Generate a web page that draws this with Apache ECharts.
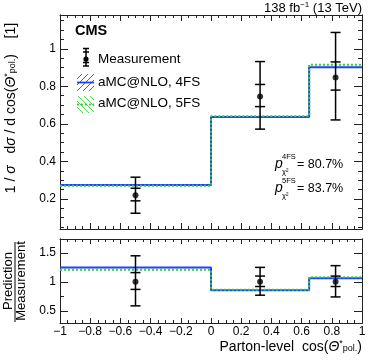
<!DOCTYPE html>
<html>
<head>
<meta charset="utf-8">
<script src="https://cdn.jsdelivr.net/npm/echarts@6/dist/echarts.min.js"></script>
<style>
html, body { margin: 0; padding: 0; background: #fff; }
#main { width: 374px; height: 363px; }
</style>
</head>
<body>
<div id="main"></div>
<script>
// bins in cos(theta*_pol)
const binEdges = [-1, 0, 0.65, 1];
const binCenters = [-0.5, 0.325, 0.825];

// measurement, upper panel
const meas = [0.22, 0.746, 0.847];
const measTotDn = [0.124, 0.572, 0.621];
const measTotUp = [0.316, 0.932, 1.087];
const measStatDn = [0.19, 0.692, 0.78];
const measStatUp = [0.257, 0.81, 0.93];

// predictions
const pred4FS = [0.275, 0.636, 0.902];
const pred5FS = [0.27, 0.641, 0.915];

// ratio panel
const ratioMeas = [1, 1, 1];
const ratioTotDn = [0.586, 0.77, 0.74];
const ratioTotUp = [1.45, 1.25, 1.28];
const ratioStatDn = [0.87, 0.92, 0.92];
const ratioStatUp = [1.16, 1.1, 1.1];
const ratio4FS = [1.248, 0.857, 1.062];
const ratio5FS = [1.21, 0.862, 1.08];

// tick values
const upperMajor = [0.2, 0.4, 0.6, 0.8, 1];
const upperMinor = [0.05, 0.1, 0.15, 0.25, 0.3, 0.35, 0.45, 0.5, 0.55, 0.65, 0.7, 0.75, 0.85, 0.9, 0.95, 1.05, 1.1, 1.15];
const lowerMajor = [0.5, 1, 1.5];
const lowerMinor = [0.75, 1.25];

const pNames = ['4FS', '5FS'];
const pValues = ['80.7%', '83.7%'];

const FONT = '"Liberation Sans", Arial, Helvetica, sans-serif';
const AX = '#222';
const BLUE = '#2040ff';
const GREEN = '#30d030';

let chart = echarts.init(document.getElementById('main'));

function fmtX(v) {
  let s = Math.abs(v - Math.round(v)) < 1e-9 ? String(Math.round(v)) : v.toFixed(1);
  return s.replace('-', '\u2212');
}

function xAxisDef(gridIndex, pos, showLabel, majLen, minLen) {
  return {
    type: 'value', gridIndex: gridIndex, position: pos,
    min: -1, max: 1, interval: 0.2,
    axisLine: { show: true, onZero: false, lineStyle: { color: AX, width: 1 } },
    axisTick: { show: true, inside: true, length: majLen, lineStyle: { color: AX } },
    minorTick: { show: true, splitNumber: 4, length: minLen, lineStyle: { color: AX } },
    splitLine: { show: false },
    minorSplitLine: { show: false },
    axisLabel: { show: showLabel, margin: 3, color: '#000', fontSize: 12, fontFamily: FONT, formatter: fmtX }
  };
}

function yAxisDef(gridIndex, pos, min, max, values, len, showLabel) {
  return {
    type: 'value', gridIndex: gridIndex, position: pos, min: min, max: max,
    axisLine: { show: true, onZero: false, lineStyle: { color: AX, width: 1 } },
    axisTick: { show: true, inside: true, length: len, customValues: values, lineStyle: { color: AX } },
    axisLabel: { show: showLabel, customValues: values, margin: 4, color: '#000', fontSize: 12, fontFamily: FONT },
    splitLine: { show: false }
  };
}

function stepData(edges, vals) {
  return edges.map(function (e, i) { return [e, vals[Math.min(i, vals.length - 1)]]; });
}

function errData(c, dn, up, sdn, sup) {
  return binCenters.map(function (x, i) { return [x, c[i], dn[i], up[i], sdn[i], sup[i]]; });
}

function errRender(params, api) {
  const x = api.value(0);
  const lo = api.coord([x, api.value(2)]);
  const hi = api.coord([x, api.value(3)]);
  const slo = api.coord([x, api.value(4)]);
  const shi = api.coord([x, api.value(5)]);
  const w = 5;
  const st = { stroke: '#000', lineWidth: 1.5 };
  const kids = [{ type: 'line', shape: { x1: lo[0], y1: lo[1], x2: hi[0], y2: hi[1] }, style: st }];
  [lo, hi, slo, shi].forEach(function (p) {
    kids.push({ type: 'line', shape: { x1: p[0] - w, y1: p[1], x2: p[0] + w, y2: p[1] }, style: st });
  });
  return { type: 'group', children: kids };
}

function hatch(color, dir) {
  const c = document.createElement('canvas');
  c.width = 6; c.height = 6;
  const g = c.getContext('2d');
  g.strokeStyle = color; g.lineWidth = 1;
  g.globalAlpha = 0.85;
  g.beginPath();
  if (dir > 0) { g.moveTo(0, 6); g.lineTo(6, 0); } else { g.moveTo(0, 0); g.lineTo(6, 6); }
  g.stroke();
  return { image: c, repeat: 'repeat' };
}

function txt(x, y, text, size, align, extra) {
  return Object.assign({
    type: 'text', x: x, y: y,
    style: { text: text, fill: '#000', fontSize: size, fontFamily: FONT, align: align || 'left', verticalAlign: 'middle' }
  }, extra || {});
}

const richBase = {
  a: { fontSize: 14, fontFamily: FONT, fill: '#000' },
  t: { fontSize: 14, fontFamily: FONT, fontStyle: 'italic', fill: '#000' },
  sup: { fontSize: 9, fontFamily: FONT, padding: [0, 0, 6, 0], fill: '#000' },
  sub: { fontSize: 9, fontFamily: FONT, padding: [4, 0, 0, 0], fill: '#000' }
};

let graphics = [];
// lumi label
graphics.push({
  type: 'text', x: 362, y: 8,
  style: {
    text: '{a|138 fb}{sup|\u22121}{a| (13 TeV)}', align: 'right', verticalAlign: 'middle',
    rich: { a: { fontSize: 13, fontFamily: FONT }, sup: { fontSize: 8, fontFamily: FONT, padding: [0, 0, 6, 0] } }
  }
});
// CMS
graphics.push({ type: 'text', x: 75, y: 31,
  style: { text: 'CMS', fontSize: 14.5, fontWeight: 'bold', fontFamily: FONT, fill: '#000', align: 'left', verticalAlign: 'middle' } });

// legend: measurement
const lgSt = { stroke: '#000', lineWidth: 1.5 };
graphics.push({ type: 'line', shape: { x1: 86, y1: 48.5, x2: 86, y2: 66 }, style: lgSt });
[48.5, 52, 62.5, 66].forEach(function (yy) {
  graphics.push({ type: 'line', shape: { x1: 83, y1: yy, x2: 89, y2: yy }, style: lgSt });
});
graphics.push({ type: 'circle', shape: { cx: 86, cy: 59, r: 2.6 }, style: { fill: '#000' } });
graphics.push(txt(98, 59.5, 'Measurement', 13.5));
// legend: 4FS
graphics.push({ type: 'rect', shape: { x: 77, y: 74, width: 17, height: 17 }, style: { fill: hatch(BLUE, 1) } });
graphics.push({ type: 'line', shape: { x1: 77, y1: 82.5, x2: 94, y2: 82.5 }, style: { stroke: BLUE, lineWidth: 1.8 } });
graphics.push(txt(98, 82, 'aMC@NLO, 4FS', 13.5));
// legend: 5FS
graphics.push({ type: 'rect', shape: { x: 77, y: 96, width: 17, height: 17 }, style: { fill: hatch(GREEN, -1) } });
graphics.push({ type: 'line', shape: { x1: 77, y1: 104.5, x2: 94, y2: 104.5 }, style: { stroke: GREEN, lineWidth: 1.8, lineDash: [2, 2] } });
graphics.push(txt(98, 103.5, 'aMC@NLO, 5FS', 13.5));

// p-values
[164, 188].forEach(function (yy, i) {
  graphics.push({ type: 'text', x: 275, y: yy, style: { text: 'p', fontSize: 14, fontStyle: 'italic', fontFamily: FONT, fill: '#000', align: 'left', verticalAlign: 'middle' } });
  graphics.push(txt(282, yy - 7, pNames[i], 7.5));
  graphics.push(txt(282, yy + 8, '\u03c7\u00b2', 7.5));
  graphics.push(txt(297, yy + 1, '= ' + pValues[i], 12.5));
});

// upper y title (rotated)
graphics.push({
  type: 'text', x: 11, y: 108, rotation: Math.PI / 2,
  style: {
    text: '{a|1 / }{t|\u03c3}{a|   d}{t|\u03c3}{a| / d cos(}{t|\u0398}{sup|*}{sub|pol.}{a|)    [1]}',
    align: 'center', verticalAlign: 'middle', rich: richBase
  }
});
// lower y title: fraction
graphics.push({ type: 'text', x: 8.5, y: 281, rotation: Math.PI / 2,
  style: { text: 'Prediction', fontSize: 13, fontFamily: FONT, fill: '#000', align: 'center', verticalAlign: 'middle' } });
graphics.push({ type: 'line', shape: { x1: 15, y1: 242, x2: 15, y2: 322 }, style: { stroke: '#000', lineWidth: 1 } });
graphics.push({ type: 'text', x: 21.5, y: 281, rotation: Math.PI / 2,
  style: { text: 'Measurement', fontSize: 13, fontFamily: FONT, fill: '#000', align: 'center', verticalAlign: 'middle' } });
// x title
graphics.push({
  type: 'text', x: 362, y: 347,
  style: {
    text: '{a|Parton-level  cos(}{t|\u0398}{sup|*}{sub|pol.}{a|)}',
    align: 'right', verticalAlign: 'middle', rich: richBase
  }
});

const option = {
  backgroundColor: '#fff',
  animation: false,
  grid: [
    { left: 60, right: 12, top: 15, height: 214, outerBoundsMode: 'none' },
    { left: 60, right: 12, top: 239, height: 84, outerBoundsMode: 'none' }
  ],
  xAxis: [
    xAxisDef(0, 'bottom', false, 6, 3),
    xAxisDef(0, 'top', false, 6, 3),
    xAxisDef(1, 'bottom', true, 5, 3),
    xAxisDef(1, 'top', false, 5, 3)
  ],
  yAxis: [
    yAxisDef(0, 'left', 0.04, 1.18, upperMajor, 8, true),
    yAxisDef(0, 'left', 0.04, 1.18, upperMinor, 4, false),
    yAxisDef(0, 'right', 0.04, 1.18, upperMajor, 8, false),
    yAxisDef(0, 'right', 0.04, 1.18, upperMinor, 4, false),
    yAxisDef(1, 'left', 0.29, 1.74, lowerMajor, 8, true),
    yAxisDef(1, 'left', 0.29, 1.74, lowerMinor, 4, false),
    yAxisDef(1, 'right', 0.29, 1.74, lowerMajor, 8, false),
    yAxisDef(1, 'right', 0.29, 1.74, lowerMinor, 4, false)
  ],
  series: [
    { type: 'line', name: '4FS', xAxisIndex: 0, yAxisIndex: 0, step: 'end', symbol: 'none',
      data: stepData(binEdges, pred4FS), lineStyle: { color: BLUE, width: 2 }, z: 2 },
    { type: 'line', name: '5FS', xAxisIndex: 0, yAxisIndex: 0, step: 'end', symbol: 'none',
      data: stepData(binEdges, pred5FS), lineStyle: { color: GREEN, width: 2, type: [2, 2] }, z: 3 },
    { type: 'custom', xAxisIndex: 0, yAxisIndex: 0, renderItem: errRender,
      data: errData(meas, measTotDn, measTotUp, measStatDn, measStatUp), z: 5 },
    { type: 'scatter', xAxisIndex: 0, yAxisIndex: 0, symbol: 'circle', symbolSize: 6,
      itemStyle: { color: '#000' }, data: binCenters.map(function (x, i) { return [x, meas[i]]; }), z: 6 },

    { type: 'line', xAxisIndex: 2, yAxisIndex: 4, step: 'end', symbol: 'none',
      data: stepData(binEdges, ratio4FS), lineStyle: { color: BLUE, width: 2 }, z: 2 },
    { type: 'line', xAxisIndex: 2, yAxisIndex: 4, step: 'end', symbol: 'none',
      data: stepData(binEdges, ratio5FS), lineStyle: { color: GREEN, width: 2, type: [2, 2] }, z: 3 },
    { type: 'custom', xAxisIndex: 2, yAxisIndex: 4, renderItem: errRender,
      data: errData(ratioMeas, ratioTotDn, ratioTotUp, ratioStatDn, ratioStatUp), z: 5 },
    { type: 'scatter', xAxisIndex: 2, yAxisIndex: 4, symbol: 'circle', symbolSize: 6,
      itemStyle: { color: '#000' }, data: binCenters.map(function (x, i) { return [x, ratioMeas[i]]; }), z: 6 }
  ],
  graphic: graphics
};

chart.setOption(option);
</script>
</body>
</html>
